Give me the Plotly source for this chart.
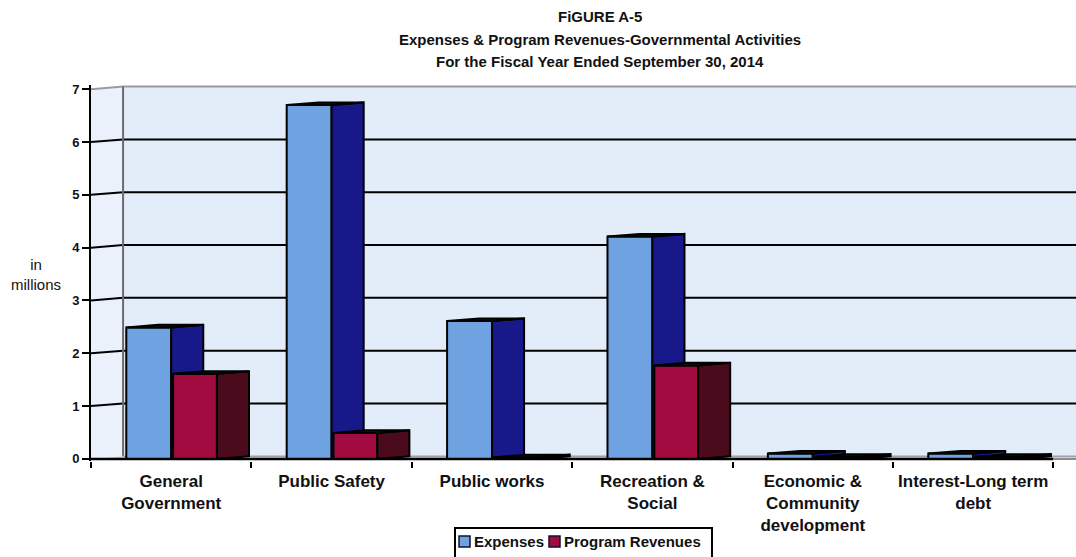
import plotly.graph_objects as go

# Governmental activities, fiscal year ended September 30, 2014 (in millions)
categories = [
    "General<br>Government",
    "Public Safety",
    "Public works",
    "Recreation &<br>Social",
    "Economic &<br>Community<br>development",
    "Interest-Long term<br>debt",
]
expenses = [2.49, 6.70, 2.61, 4.21, 0.10, 0.10]
program_revenues = [1.61, 0.49, 0.03, 1.77, 0.04, 0.04]
y_ticks = [0, 1, 2, 3, 4, 5, 6, 7]

# page / plot geometry
W, H = 1076, 557
ML, MR, MT, MB = 91, 0, 85, 96
X_MIN = -0.5
X_MAX = X_MIN + (W - ML - MR) / 160.4
Y_MIN, Y_MAX = -0.04, 7.08

# pseudo-3D depth of columns and walls (axis units)
DX, DY = 0.2, 0.05
EXP_SPAN = (-0.28, 0.0)
REV_SPAN = (0.012, 0.285)

EXP_FRONT, EXP_SIDE = "#6ea2e0", "#17198a"
REV_FRONT, REV_SIDE = "#a20b40", "#4a0b1d"
TOP_FACE = "#151515"
WALL_BACK, WALL_SIDE = "#e3edf9", "#eaf1fb"
FONT = "Liberation Sans, Arial"


def px_x(px):
    return (px - ML) / (W - ML - MR)


def px_y(py):
    return 1 - (py - MT) / (H - MT - MB)


def column_faces(values, span):
    """Return polygon coordinate lists (front, side, top) for a series."""
    faces = {"front": ([], []), "side": ([], []), "top": ([], [])}
    for i, v in enumerate(values):
        x0, x1 = i + span[0], i + span[1]
        polys = {
            "front": [(x0, 0), (x1, 0), (x1, v), (x0, v), (x0, 0)],
            "side": [(x1, 0), (x1 + DX, DY), (x1 + DX, v + DY), (x1, v), (x1, 0)],
            "top": [(x0, v), (x0 + DX, v + DY), (x1 + DX, v + DY), (x1, v), (x0, v)],
        }
        for key, pts in polys.items():
            xs, ys = faces[key]
            xs.extend([p[0] for p in pts] + [None])
            ys.extend([p[1] for p in pts] + [None])
    return faces


fig = go.Figure()


def add_series(name, values, span, front_color, side_color):
    faces = column_faces(values, span)
    for key, color in (("front", front_color), ("side", side_color), ("top", TOP_FACE)):
        xs, ys = faces[key]
        fig.add_trace(go.Scatter(
            x=xs, y=ys, mode="lines", fill="toself", fillcolor=color,
            line=dict(color="#000000", width=2), name=name,
            showlegend=False, hoverinfo="skip",
        ))


add_series("Expenses", expenses, EXP_SPAN, EXP_FRONT, EXP_SIDE)
add_series("Program Revenues", program_revenues, REV_SPAN, REV_FRONT, REV_SIDE)

shapes = []
# back wall
shapes.append(dict(type="rect", xref="x", yref="y", x0=X_MIN + DX, x1=X_MAX + 1,
                   y0=DY, y1=y_ticks[-1] + DY, fillcolor=WALL_BACK,
                   line=dict(width=0), layer="below"))
# side wall
shapes.append(dict(type="path", xref="x", yref="y",
                   path=f"M{X_MIN},0 L{X_MIN + DX},{DY} L{X_MIN + DX},{y_ticks[-1] + DY} "
                        f"L{X_MIN},{y_ticks[-1]} Z",
                   fillcolor=WALL_SIDE, line=dict(width=0), layer="below"))
# floor
shapes.append(dict(type="path", xref="x", yref="y",
                   path=f"M{X_MIN},0 L{X_MAX + 1},0 L{X_MAX + 1},{DY} L{X_MIN + DX},{DY} Z",
                   fillcolor="#cfcfd8", line=dict(width=0), layer="below"))
# gridlines on back and side walls
for k in y_ticks[1:-1]:
    shapes.append(dict(type="line", xref="x", yref="y", x0=X_MIN + DX, x1=X_MAX + 1,
                       y0=k + DY, y1=k + DY, line=dict(color="#000000", width=2),
                       layer="below"))
    shapes.append(dict(type="line", xref="x", yref="y", x0=X_MIN, x1=X_MIN + DX,
                       y0=k, y1=k + DY, line=dict(color="#000000", width=2),
                       layer="below"))
# wall edges
top = y_ticks[-1]
shapes.append(dict(type="line", xref="x", yref="y", x0=X_MIN + DX, x1=X_MAX + 1,
                   y0=top + DY, y1=top + DY, line=dict(color="#9a9aa4", width=2),
                   layer="below"))
shapes.append(dict(type="line", xref="x", yref="y", x0=X_MIN, x1=X_MIN + DX,
                   y0=top, y1=top + DY, line=dict(color="#9a9aa4", width=2),
                   layer="below"))
shapes.append(dict(type="line", xref="x", yref="y", x0=X_MIN + DX, x1=X_MIN + DX,
                   y0=DY, y1=top + DY, line=dict(color="#6a6a70", width=2),
                   layer="below"))
shapes.append(dict(type="line", xref="x", yref="y", x0=X_MIN + DX, x1=X_MAX + 1,
                   y0=DY, y1=DY, line=dict(color="#a0a0aa", width=1.5),
                   layer="below"))
# category axis line (front floor edge)
n = len(categories)
shapes.append(dict(type="line", xref="x", yref="y", x0=X_MIN, x1=n - 0.5,
                   y0=0, y1=0, line=dict(color="#000000", width=2.5)))
shapes.append(dict(type="line", xref="x", yref="y", x0=n - 0.5, x1=X_MAX + 1,
                   y0=0, y1=0, line=dict(color="#8a8a92", width=2)))

# legend box
shapes.append(dict(type="rect", xref="paper", yref="paper",
                   x0=px_x(455), x1=px_x(712), y0=px_y(562), y1=px_y(528),
                   fillcolor="#ffffff", line=dict(color="#000000", width=2)))
legend_items = [("Expenses", EXP_FRONT, 459, 472), ("Program Revenues", REV_FRONT, 549, 562)]
annotations = []
for label, color, sq_x, tx in legend_items:
    shapes.append(dict(type="rect", xref="paper", yref="paper",
                       x0=px_x(sq_x), x1=px_x(sq_x + 11), y0=px_y(547), y1=px_y(536),
                       fillcolor=color, line=dict(color="#101030", width=1.5)))
    annotations.append(dict(text=label, xref="paper", yref="paper", x=px_x(tx), y=px_y(541.5),
                            xanchor="left", yanchor="middle", showarrow=False,
                            font=dict(family=FONT, size=15, color="#111111", weight="bold")))

# title lines
for text, py in (("FiGURE A-5", 17),
                 ("Expenses & Program Revenues-Governmental Activities", 40),
                 ("For the Fiscal Year Ended September 30, 2014", 61)):
    annotations.append(dict(text=text, xref="paper", yref="paper", x=px_x(600), y=px_y(py),
                            xanchor="center", yanchor="middle", showarrow=False,
                            font=dict(family=FONT, size=15, color="#111111", weight="bold")))

# y-axis unit label
annotations.append(dict(text="in<br>millions", xref="paper", yref="paper", x=px_x(36),
                        y=px_y(274), xanchor="center", yanchor="middle", showarrow=False,
                        font=dict(family=FONT, size=15, color="#111111")))

fig.update_layout(
    width=W, height=H,
    margin=dict(l=ML, r=MR, t=MT, b=MB, pad=0),
    paper_bgcolor="#ffffff", plot_bgcolor="#ffffff",
    showlegend=False,
    shapes=shapes, annotations=annotations,
    xaxis=dict(
        range=[X_MIN, X_MAX], tickmode="array", tickvals=list(range(n)), ticktext=categories,
        ticks="", showgrid=False, zeroline=False, showline=False, ticklabelstandoff=8,
        tickfont=dict(family=FONT, size=17, color="#111111", weight="bold"),
        minor=dict(tickmode="array", tickvals=[i - 0.5 for i in range(n + 1)], ticks="outside",
                   ticklen=6, tickwidth=2, tickcolor="#000000", showgrid=False),
        fixedrange=True,
    ),
    yaxis=dict(
        range=[Y_MIN, Y_MAX], tickmode="array", tickvals=y_ticks,
        ticks="outside", ticklen=7, tickwidth=2, tickcolor="#000000",
        showline=True, linecolor="#000000", linewidth=2,
        showgrid=False, zeroline=False,
        tickfont=dict(family=FONT, size=13, color="#111111", weight="bold"),
        fixedrange=True,
    ),
)

fig.write_html("out.html")
